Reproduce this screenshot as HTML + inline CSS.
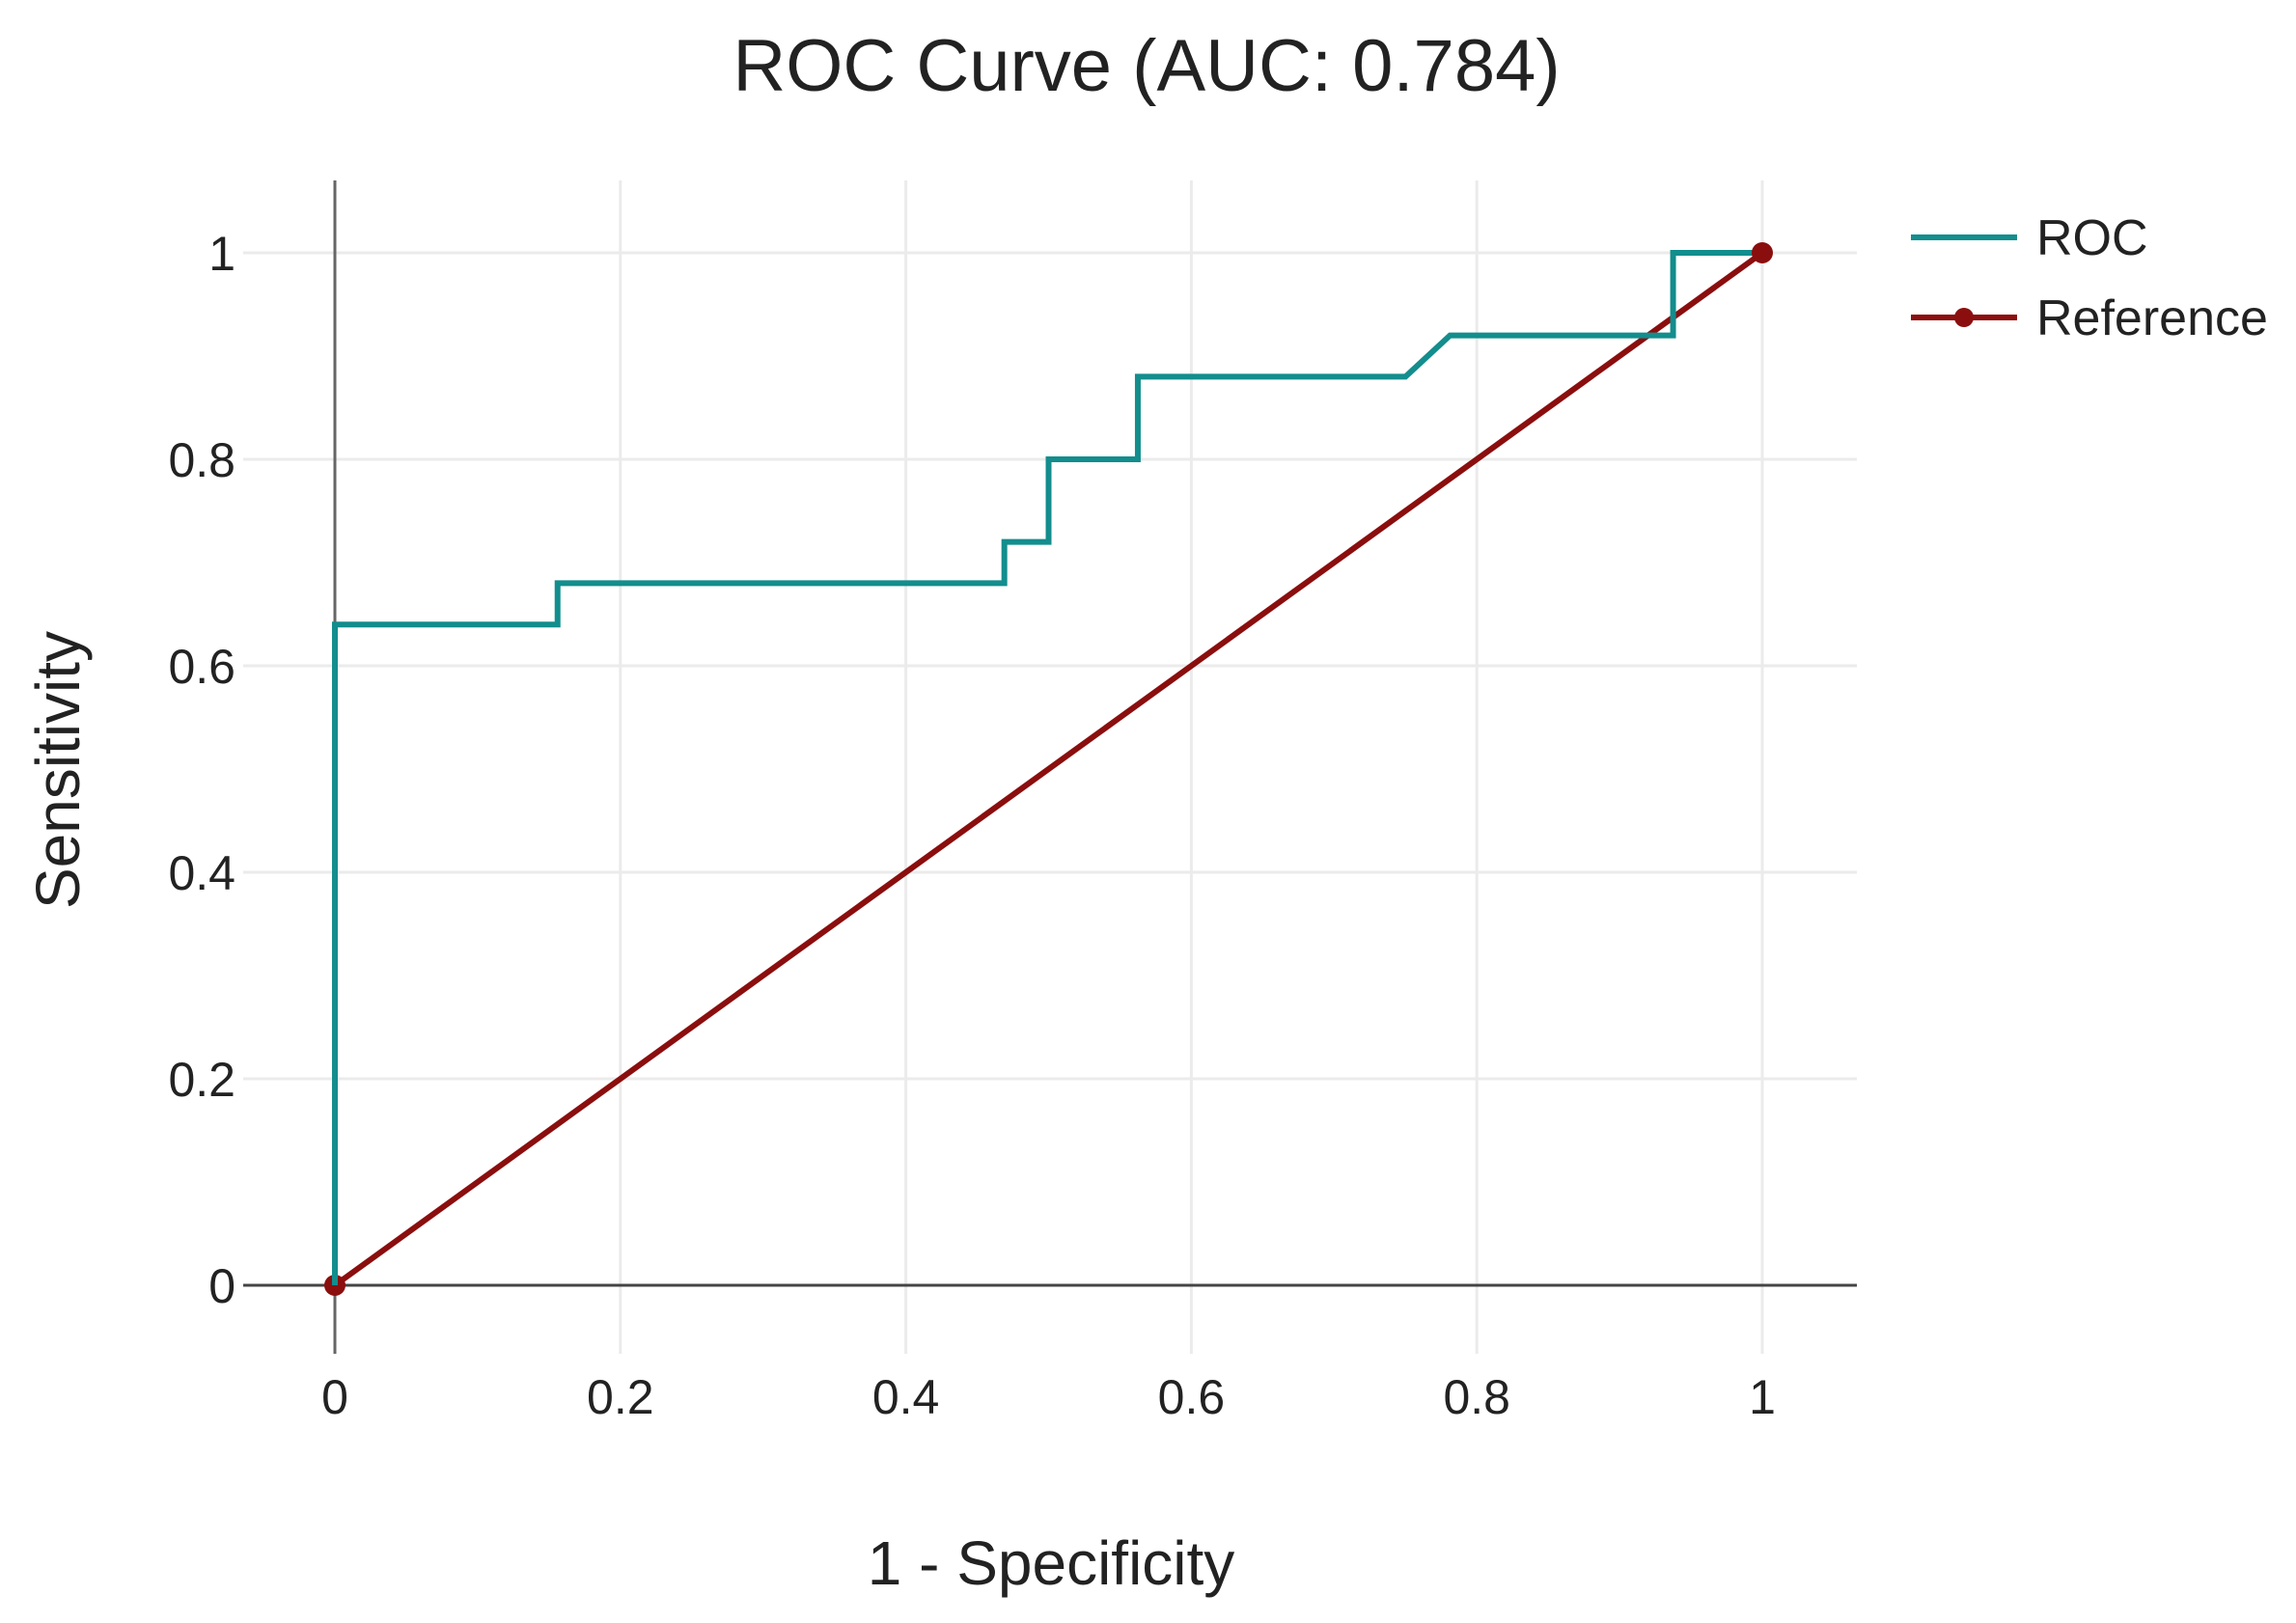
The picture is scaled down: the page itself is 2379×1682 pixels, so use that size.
<!DOCTYPE html>
<html><head><meta charset="utf-8"><style>
html,body{margin:0;padding:0;background:#fff;}
svg{display:block;font-family:"Liberation Sans",sans-serif;}
</style></head><body>
<svg id="chart" width="2379" height="1682" viewBox="0 0 2379 1682">
<text x="1188" y="94" font-size="76" text-anchor="middle" fill="#222">ROC Curve (AUC: 0.784)</text>
<g id="grid"></g>
<g id="ticks"></g>
<g id="series"></g>
<text x="1089" y="1642" font-size="64" text-anchor="middle" fill="#222">1 - Specificity</text>
<text transform="translate(82,798) rotate(-90)" font-size="64" text-anchor="middle" fill="#222">Sensitivity</text>
<g>
<g>
<line x1="1980" y1="246" x2="2090" y2="246" stroke="#138d8d" stroke-width="6"/>
<text x="2110" y="264" font-size="52" fill="#222">ROC</text></g>
<g>
<line x1="1980" y1="329" x2="2090" y2="329" stroke="#8b0e0e" stroke-width="6"/>
<circle cx="2035" cy="329" r="10" fill="#8b0e0e"/>
<text x="2110" y="347" font-size="52" fill="#222">Reference</text></g>
</g>
</svg>
<script>
const rocFpr=[0,0,0.156,0.156,0.469,0.469,0.5,0.5,0.5625,0.5625,0.75,0.78125,0.9375,0.9375,1];
const rocTpr=[0,0.64,0.64,0.68,0.68,0.72,0.72,0.80,0.80,0.88,0.88,0.92,0.92,1,1];
const refX=[0,1];
const refY=[0,1];
const xTicks=[0,0.2,0.4,0.6,0.8,1];
const yTicks=[0,0.2,0.4,0.6,0.8,1];
const xTickLabels=["0","0.2","0.4","0.6","0.8","1"];
const yTickLabels=["0","0.2","0.4","0.6","0.8","1"];

const NS="http://www.w3.org/2000/svg";
const X=v=>347+v*1479;
const Y=v=>1332-v*1070;
const L=252,R=1924,T=187,B=1403;
function mk(tag,attrs,parent){const e=document.createElementNS(NS,tag);for(const k in attrs)e.setAttribute(k,attrs[k]);parent.appendChild(e);return e;}
const grid=document.getElementById('grid'),ticks=document.getElementById('ticks'),series=document.getElementById('series');
xTicks.forEach((v,i)=>{
  if(v!==0){const g=mk('line',{x1:X(v),x2:X(v),y1:T,y2:B,stroke:'#ebebeb','stroke-width':3},grid);
  
  }
  const t=mk('text',{x:X(v),y:1465,'font-size':50,'text-anchor':'middle',fill:'#222'},ticks);
  t.textContent=xTickLabels[i];
  
  
});
yTicks.forEach((v,i)=>{
  if(v!==0){const g=mk('line',{x1:L,x2:R,y1:Y(v),y2:Y(v),stroke:'#ebebeb','stroke-width':3},grid);
  
  }
  const t=mk('text',{x:244,y:Y(v)+18,'font-size':50,'text-anchor':'end',fill:'#222'},ticks);
  t.textContent=yTickLabels[i];
  
  
});
const za=mk('line',{x1:L,x2:R,y1:Y(0),y2:Y(0),stroke:'#444','stroke-width':3},grid);


const zb=mk('line',{x1:X(0),x2:X(0),y1:T,y2:B,stroke:'#666','stroke-width':3},grid);


const ref=mk('polyline',{points:refX.map((v,i)=>X(v)+','+Y(refY[i])).join(' '),fill:'none',stroke:'#8b0e0e','stroke-width':6},series);


refX.forEach((v,i)=>{const c=mk('circle',{cx:X(v),cy:Y(refY[i]),r:11,fill:'#8b0e0e'},series);

});
const roc=mk('polyline',{points:rocFpr.map((v,i)=>X(v)+','+Y(rocTpr[i])).join(' '),fill:'none',stroke:'#138d8d','stroke-width':6},series);


series.appendChild(series.querySelectorAll('circle')[1]);
</script>
</body></html>
